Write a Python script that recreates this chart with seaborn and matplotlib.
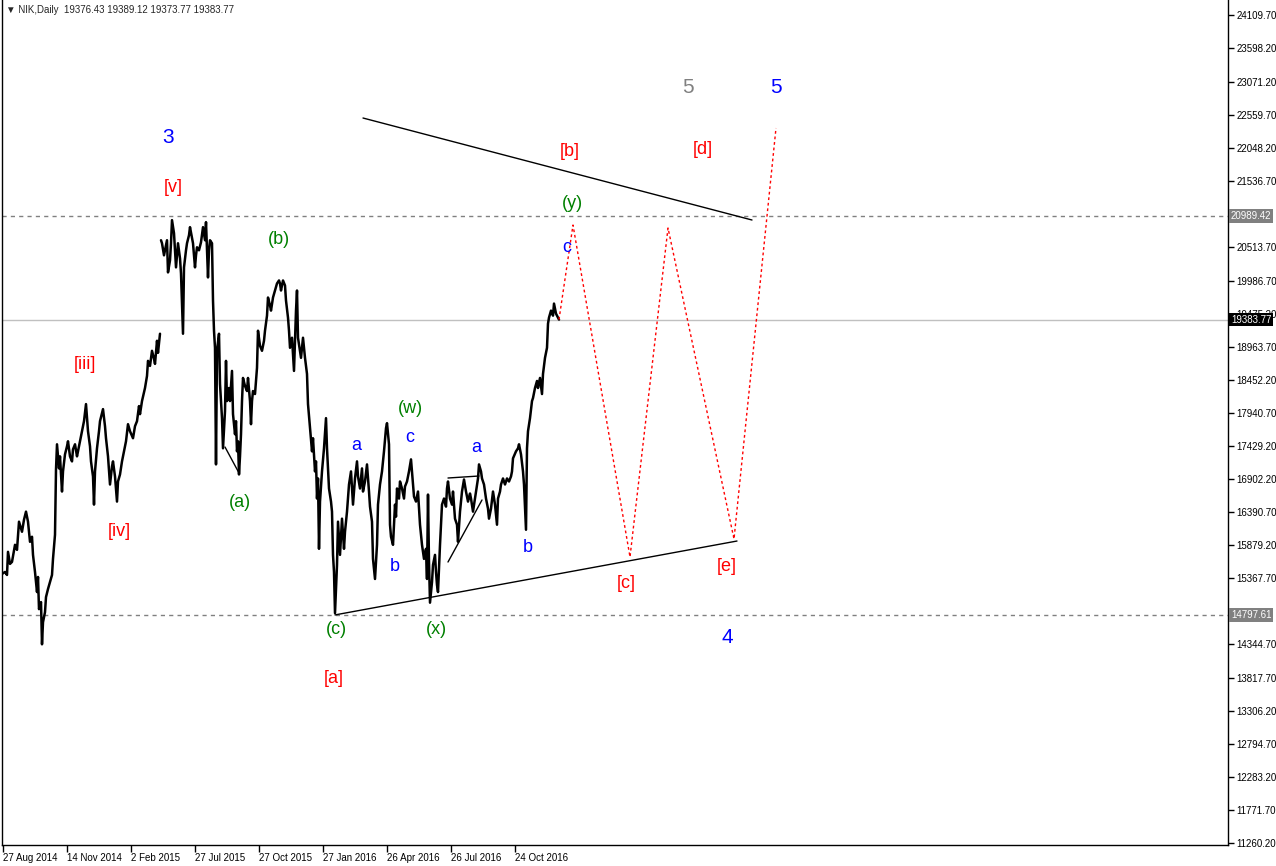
import matplotlib
matplotlib.use("Agg")
import matplotlib.pyplot as plt
import matplotlib.transforms as mtransforms
import pandas as pd
import seaborn as sns

# NIK daily closes, x = bar index on the chart (feed has a hole after bar 160)
bars_a = [2, 5, 7, 8, 10, 12, 15, 17, 19, 22,
          24, 26, 28, 30, 32, 33, 35, 37, 38, 39,
          41, 42, 43, 45, 46, 48, 50, 52, 53, 55,
          56, 57, 59, 60, 62, 63, 65, 67, 68, 70,
          72, 73, 75, 77, 78, 80, 82, 84, 86, 88,
          90, 91, 93, 94, 95, 97, 99, 100, 103, 105,
          106, 108, 110, 112, 113, 115, 117, 118, 120, 122,
          124, 126, 128, 130, 133, 135, 137, 139, 140, 142,
          145, 147, 148, 150, 152, 154, 155, 157, 158, 160]
close_a = [15436, 15467, 15420, 15779, 15592, 15623, 15888, 15810, 16247, 16091,
           16278, 16403, 16247, 15935, 16013, 15732, 15467, 15155, 15389, 14890,
           14999, 14344, 14687, 14843, 15077, 15202, 15311, 15420, 15670, 16044,
           17058, 17448, 17074, 17261, 16715, 17027, 17292, 17417, 17495, 17261,
           17183, 17370, 17448, 17261, 17339, 17495, 17651, 17807, 18072, 17651,
           17417, 17183, 16949, 16512, 17027, 17386, 17651, 17807, 17994, 17729,
           17542, 17261, 16824, 17105, 17183, 16949, 16559, 16871, 16980, 17183,
           17339, 17495, 17760, 17651, 17542, 17729, 17807, 18041, 17916, 18119,
           18322, 18509, 18743, 18665, 18899, 18774, 18696, 19055, 18868, 19164]

bars_b = [161, 162, 164, 165, 167, 168, 170, 171, 172, 174,
          176, 177, 178, 180, 181, 183, 184, 186, 187, 189,
          190, 192, 193, 195, 196, 197, 199, 201, 203, 205,
          206, 208, 209, 210, 212, 213, 214, 215, 216, 217,
          219, 220, 221, 222, 223, 225, 226, 227, 229, 230,
          232, 233, 235, 236, 237, 238, 239, 240, 241, 242,
          243, 245, 247, 248, 250, 251, 252, 253, 255, 257,
          258, 260, 262, 264, 265, 267, 268, 270, 271, 273,
          275, 277, 279, 280, 281, 283, 285, 286, 288, 289,
          290, 292, 294, 296, 297, 298, 300, 301, 303, 305,
          307, 308, 310, 311, 312, 313, 315, 316, 317, 318,
          319, 320, 322, 324, 326, 327, 329, 331, 332, 333,
          334, 335, 337, 338, 340, 342, 344, 345, 347, 349,
          351, 353, 355, 357, 358, 360, 362, 363, 365, 367,
          369, 370, 372, 373, 375, 376, 377, 378, 380, 382,
          384, 386, 387, 389, 390, 391, 393, 395, 396, 397,
          399, 400, 402, 404, 405, 407, 409, 411, 413, 414,
          416, 418, 420, 422, 424, 426, 427, 428, 429, 430,
          432, 433, 435, 436, 437, 438, 440, 442, 444, 446,
          447, 448, 450, 452, 453, 455, 457, 458, 460, 462,
          464, 466, 468, 470, 471, 473, 476, 478, 479, 481,
          482, 484, 486, 488, 489, 491, 493, 495, 497, 498,
          500, 501, 503, 505, 507, 509, 511, 512, 513, 516,
          518, 519, 521, 523, 524, 526, 527, 528, 530, 532,
          533, 535, 537, 538, 540, 542, 543, 545, 547, 548,
          549, 551, 553, 554, 556, 558, 559]
close_b = [20615, 20568, 20381, 20459, 20615, 20116, 20303, 20568, 20927, 20724,
           20194, 20381, 20568, 20334, 20100, 19164, 20194, 20459, 20568, 20693,
           20818, 20646, 20568, 20194, 20381, 20506, 20459, 20584, 20818, 20615,
           20896, 20038, 20459, 20615, 20568, 19679, 19211, 18946, 17136, 18899,
           19164, 18384, 18119, 17854, 17386, 17963, 18743, 18119, 18322, 18119,
           18587, 17916, 17604, 17807, 17339, 17495, 16980, 17261, 17604, 18119,
           18478, 18353, 18275, 18478, 18119, 17760, 18119, 18275, 18228, 18634,
           19211, 18977, 18899, 19055, 19211, 19445, 19726, 19601, 19523, 19726,
           19835, 19944, 19991, 19944, 19835, 19991, 19913, 19679, 19414, 19211,
           18946, 19102, 18587, 19523, 19835, 19102, 18899, 18790, 19102, 18790,
           18540, 18072, 17698, 17495, 17339, 17542, 17027, 17183, 16606, 16918,
           15826, 16559, 17027, 17386, 17854, 17386, 16762, 16559, 16403, 15732,
           15467, 14827, 15576, 16247, 15732, 16294, 15826, 16091, 16403, 16824,
           17027, 16512, 16918, 17183, 16949, 16762, 17074, 16715, 16871, 17136,
           16715, 16481, 16247, 15670, 15358, 15623, 15888, 16512, 16824, 17027,
           17339, 17698, 17776, 17448, 16200, 16013, 15888, 16512, 16325, 16762,
           16606, 16871, 16762, 16606, 16793, 16871, 17027, 17214, 16824, 16637,
           16559, 16715, 16200, 15888, 15670, 15826, 15358, 16668, 15623, 14990,
           15311, 15576, 15732, 15467, 15264, 15155, 15888, 16512, 16606, 16481,
           16762, 16871, 16606, 16512, 16715, 16294, 16200, 15935, 16403, 16715,
           16902, 16715, 16559, 16684, 16606, 16403, 16715, 16918, 17136, 17027,
           16918, 16824, 16606, 16450, 16294, 16450, 16715, 16512, 16200, 16606,
           16715, 16824, 16918, 16824, 16918, 16871, 16949, 17027, 17230, 17339,
           17386, 17448, 17292, 17027, 16824, 16122, 17386, 17651, 17854, 18119,
           18166, 18322, 18431, 18322, 18478, 18228, 18540, 18790, 18946, 19320,
           19414, 19523, 19445, 19632, 19476, 19414, 19383.77]

header = "\u25bc NIK,Daily  19376.43 19389.12 19373.77 19383.77"
last_price = 19383.77
levels = [20989.42, 14797.61]

price_ticks = [24109.70, 23598.20, 23071.20, 22559.70, 22048.20, 21536.70,
               20513.70, 19986.70, 19475.20, 18963.70, 18452.20, 17940.70,
               17429.20, 16902.20, 16390.70, 15879.20, 15367.70, 14344.70,
               13817.70, 13306.20, 12794.70, 12283.20, 11771.70, 11260.20]
date_ticks = [3, 67, 131, 195, 259, 323, 387, 451, 515]
date_labels = ["27 Aug 2014", "14 Nov 2014", "2 Feb 2015", "27 Jul 2015", "27 Oct 2015",
               "27 Jan 2016", "26 Apr 2016", "26 Jul 2016", "24 Oct 2016"]

# drawn trendlines (bar, price)
upper_line = ([363, 752], [22512, 20929])
lower_line = ([335, 737], [14800, 15947])
wedge_top = ([448, 479], [16925, 16956])
wedge_bottom = ([448, 482], [15621, 16584])
a_line = ([225, 239], [17406, 17003])
# projected triangle path
proj_bars = [559, 573, 630, 668, 734, 776]
proj_prices = [19384, 20851, 15699, 20805, 15978, 22357]

# wave labels: text, bar, price, degree
wave_text = ["3", "[v]", "[iii]", "[iv]", "(a)", "(b)", "(c)", "[a]", "a", "b",
             "(w)", "c", "(x)", "a", "b", "c", "(y)", "[b]", "[c]", "5",
             "[d]", "[e]", "4", "5"]
wave_bar = [168, 173, 85, 119, 240, 279, 336, 334, 356, 395,
            410, 410, 436, 476, 528, 567, 572, 570, 626, 688,
            703, 727, 727, 776]
wave_price = [22202, 21426, 18679, 16087, 16552, 20634, 14566, 13821, 17437, 15544,
              18011, 17561, 14566, 17406, 15854, 20510, 21193, 22000, 15280, 22993,
              22016, 15559, 14457, 22993]
wave_degree = ["primary", "minor", "minor", "minor", "minute", "minute", "minute", "minor", "sub", "sub",
               "minute", "sub", "minute", "sub", "sub", "sub", "minute", "minor", "minor", "alt",
               "minor", "minor", "primary", "primary"]

degree_color = {"primary": "#0000ff", "minor": "#ff0000", "minute": "#008000",
                "sub": "#0000ff", "alt": "#808080"}


def main():
    sns.set_style("white")
    plt.rcParams["font.family"] = ["Liberation Sans", "DejaVu Sans"]

    fig = plt.figure(figsize=(12.76, 8.66), dpi=100)
    ax = fig.add_axes([2 / 1276, 21 / 866, 1226 / 1276, 845 / 866])

    price = pd.concat([
        pd.DataFrame({"bar": bars_a, "close": close_a, "leg": 0}),
        pd.DataFrame({"bar": bars_b, "close": close_b, "leg": 1}),
    ])
    sns.lineplot(data=price, x="bar", y="close", units="leg", estimator=None,
                 color="black", lw=1.8, ax=ax, legend=False, zorder=3)

    for lv in levels:
        ax.axhline(lv, color="#808080", lw=1, ls=(0, (3, 3)), zorder=1)
    ax.axhline(last_price, color="#c0c0c0", lw=1, zorder=1)

    for xs, ys in [upper_line, lower_line, wedge_top, wedge_bottom, a_line]:
        ax.plot(xs, ys, color="black", lw=1, zorder=4)
    ax.plot(proj_bars, proj_prices, color="#ff0000", lw=1, ls=(0, (2, 2)), zorder=4)

    for t, b, p, d in zip(wave_text, wave_bar, wave_price, wave_degree):
        size = 15 if t in ("3", "4", "5") else 13
        ax.text(b, p, t, color=degree_color[d], fontsize=size, ha="center", va="center", zorder=5)

    ax.set_xlim(2, 1228)
    ax.set_ylim(11229.2, 24343.6)
    ax.set_xlabel("")
    ax.set_ylabel("")

    ax.yaxis.tick_right()
    ax.set_yticks(price_ticks)
    ax.set_yticklabels(["%.2f" % v for v in price_ticks])
    ax.set_xticks(date_ticks)
    ax.set_xticklabels(date_labels)
    for lab in ax.get_xticklabels():
        lab.set_ha("left")
    ax.tick_params(axis="y", direction="out", length=4, width=1, labelsize=7, pad=2,
                   colors="black", right=True, left=False)
    ax.tick_params(axis="x", direction="out", length=5, width=1, labelsize=7, pad=1,
                   colors="black", bottom=True)
    ax.grid(False)
    ax.spines["top"].set_visible(False)
    for s in ["left", "right", "bottom"]:
        ax.spines[s].set_color("black")
        ax.spines[s].set_linewidth(1)

    trans = mtransforms.blended_transform_factory(ax.transAxes, ax.transData)
    for lv in levels:
        ax.text(1.0 + 3 / 1226, lv, "%.2f" % lv, transform=trans, ha="left", va="center",
                fontsize=7, color="white", clip_on=False, zorder=6,
                bbox=dict(boxstyle="square,pad=0.18", fc="#808080", ec="none"))
    ax.text(1.0 + 3 / 1226, last_price, "%.2f" % last_price, transform=trans, ha="left",
            va="center", fontsize=7, color="white", clip_on=False, zorder=6,
            bbox=dict(boxstyle="square,pad=0.18", fc="black", ec="none"))

    fig.text(6 / 1276, 1 - 10 / 866, header, fontsize=7, va="center", ha="left")

    fig.savefig("out.png", dpi=100)
    plt.close(fig)


if __name__ == "__main__":
    main()
